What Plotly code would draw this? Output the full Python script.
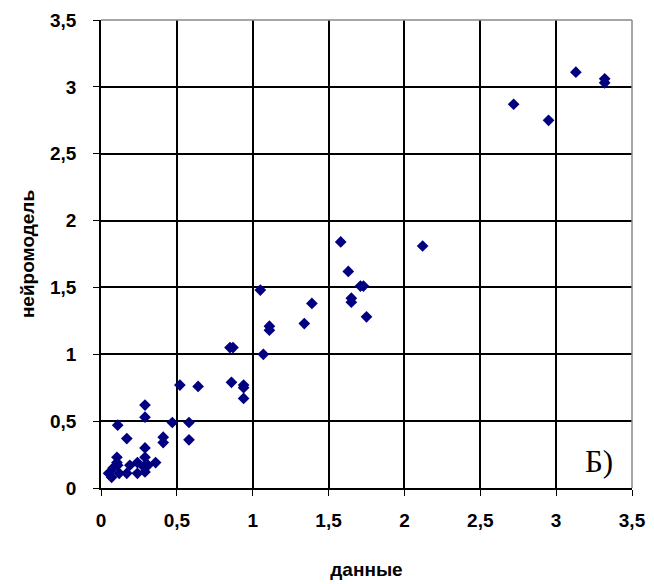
import plotly.graph_objects as go

data_x = [0.05, 0.07, 0.08, 0.105, 0.105, 0.11, 0.12, 0.17, 0.19, 0.24, 0.24, 0.28, 0.29, 0.29, 0.29, 0.31, 0.36,
          0.11, 0.17, 0.29, 0.29, 0.41, 0.41, 0.47, 0.58, 0.58,
          0.52, 0.64, 0.86, 0.94, 0.94, 0.94,
          0.85, 0.87, 1.07, 1.05, 1.11, 1.11, 1.34, 1.39,
          1.58, 1.63, 1.71, 1.73, 1.65, 1.65, 1.75, 2.12,
          2.72, 2.95, 3.13, 3.32, 3.32]
model_y = [0.11, 0.08, 0.15, 0.23, 0.19, 0.17, 0.11, 0.11, 0.17, 0.19, 0.11, 0.16, 0.30, 0.23, 0.12, 0.17, 0.19,
           0.47, 0.37, 0.62, 0.53, 0.38, 0.34, 0.49, 0.49, 0.36,
           0.77, 0.76, 0.79, 0.77, 0.75, 0.67,
           1.05, 1.05, 1.00, 1.48, 1.21, 1.18, 1.23, 1.38,
           1.84, 1.62, 1.51, 1.51, 1.42, 1.39, 1.28, 1.81,
           2.87, 2.75, 3.11, 3.06, 3.03]

tick_vals = [0, 0.5, 1, 1.5, 2, 2.5, 3, 3.5]
tick_text = ["0", "0,5", "1", "1,5", "2", "2,5", "3", "3,5"]

font_main = dict(family="Liberation Sans", size=19, color="black")

fig = go.Figure(go.Scatter(
    x=data_x, y=model_y, mode="markers",
    marker=dict(symbol="diamond", size=9, color="#000080"),
    showlegend=False,
))

axis_common = dict(
    range=[0, 3.5], tickvals=tick_vals, ticktext=["<b>" + t + "</b>" for t in tick_text],
    showgrid=True, gridcolor="black", gridwidth=1.5,
    showline=True, linecolor="black", linewidth=1.5,
    ticks="outside", ticklen=6, tickcolor="black", tickwidth=1,
    zeroline=False, tickfont=dict(family="Liberation Sans", size=19, color="black"),
    automargin=False,
)

fig.update_layout(
    width=646, height=576,
    margin=dict(l=93, r=22, t=12, b=96),
    plot_bgcolor="white", paper_bgcolor="white",
    separators=", ",
    xaxis=dict(**axis_common, ticklabelstandoff=8,
               title=dict(text="<b>данные</b>", font=font_main, standoff=33)),
    yaxis=dict(**axis_common, ticklabelstandoff=13,
               title=dict(text="<b>нейромодель</b>", font=font_main, standoff=10)),
    shapes=[dict(type="line", xref="paper", yref="paper", x0=1, x1=1, y0=0, y1=1,
                 line=dict(color="#888888", width=1.5)),
            dict(type="line", xref="paper", yref="paper", x0=0, x1=1, y0=1, y1=1,
                 line=dict(color="#888888", width=1.5))],
    annotations=[dict(text="Б)", x=3.28, y=0.2, xref="x", yref="y", showarrow=False,
                      font=dict(family="Liberation Serif", size=31, color="black"))],
)

fig.write_html("out.html")
